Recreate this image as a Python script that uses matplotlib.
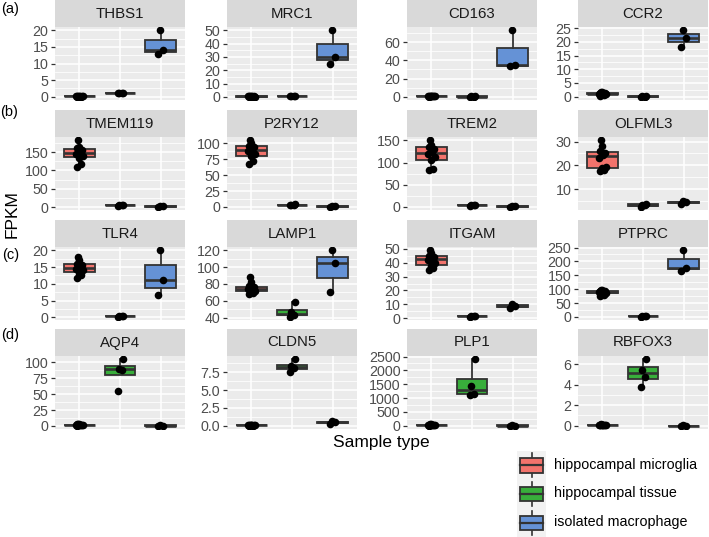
import matplotlib
matplotlib.use("Agg")
import matplotlib.pyplot as plt
import numpy as np

# genes in facet order (4 x 4 grid)
genes = ["THBS1", "MRC1", "CD163", "CCR2",
         "TMEM119", "P2RY12", "TREM2", "OLFML3",
         "TLR4", "LAMP1", "ITGAM", "PTPRC",
         "AQP4", "CLDN5", "PLP1", "RBFOX3"]

# FPKM values, one list per gene
microglia = [
    [0.0, 0.0, 0.05, 0.1, 0.1, 0.15, 0.2, 0.2, 0.25, 0.3],
    [0.1, 0.1, 0.2, 0.2, 0.3, 0.3, 0.4, 0.4, 0.5, 0.6],
    [0.2, 0.3, 0.4, 0.5, 0.5, 0.6, 0.6, 0.7, 0.8, 1.0],
    [0.4, 0.6, 0.8, 0.9, 1.0, 1.1, 1.2, 1.4, 1.6, 1.8],
    [110, 118, 135, 140, 146, 150, 155, 160, 163, 182],
    [67, 73, 80, 84, 88, 92, 94, 96, 100, 105],
    [83, 86, 105, 112, 120, 124, 130, 136, 140, 150],
    [17.8, 18.2, 19, 19.5, 23, 24.5, 25, 26, 28, 30.5],
    [11.8, 12.5, 13.2, 14, 14.5, 14.8, 15.5, 16, 17, 18],
    [68, 69, 71, 72, 74, 75, 76, 77, 82, 88],
    [35, 36, 38, 40, 42, 43, 44, 45, 47, 49],
    [75, 80, 85, 87, 90, 91, 92, 94, 96, 98],
    [0.5, 0.8, 1.0, 1.2, 1.5, 1.8, 2.0, 2.2, 2.5, 3.0],
    [0.02, 0.03, 0.05, 0.05, 0.06, 0.08, 0.1, 0.1, 0.12, 0.15],
    [10, 15, 20, 25, 30, 35, 40, 45, 50, 60],
    [0.02, 0.03, 0.04, 0.05, 0.05, 0.06, 0.07, 0.08, 0.1, 0.12],
]
tissue = [
    [1.0, 1.05, 1.1, 1.2],
    [0.3, 0.5, 0.6, 0.8],
    [0.1, 0.2, 0.3, 0.4],
    [0.0, 0.05, 0.1, 0.1],
    [3.5, 4.5, 5.0, 6.0],
    [2.5, 3.0, 3.5, 4.0],
    [3.0, 4.0, 4.5, 5.0],
    [2.8, 3.3, 3.7, 4.0],
    [0.2, 0.3, 0.3, 0.4],
    [41, 43, 46, 58],
    [1.0, 1.2, 1.4, 1.6],
    [1, 2, 3, 4],
    [55, 88, 90, 105],
    [7.5, 8.1, 8.3, 9.3],
    [1130, 1150, 1450, 2400],
    [3.8, 4.8, 5.5, 6.5],
]
macrophage = [
    [12.9, 14.2, 20.0],
    [25, 30, 50],
    [33.5, 35, 73],
    [18.2, 21.5, 24.2],
    [1.0, 1.5, 2.0],
    [0.5, 1.0, 1.5],
    [0.5, 1.0, 1.5],
    [4.0, 4.6, 5.2],
    [6.8, 11, 20],
    [70, 105, 120],
    [7, 8.5, 10.5],
    [165, 178, 240],
    [0.3, 0.5, 0.8],
    [0.2, 0.5, 0.7],
    [5, 10, 15],
    [0.0, 0.01, 0.02],
]
yticks = [
    [0, 5, 10, 15, 20], [0, 10, 20, 30, 40, 50], [0, 20, 40, 60], [0, 5, 10, 15, 20, 25],
    [0, 50, 100, 150], [0, 25, 50, 75, 100], [0, 50, 100, 150], [10, 20, 30],
    [0, 5, 10, 15, 20], [40, 60, 80, 100, 120], [0, 10, 20, 30, 40, 50], [0, 50, 100, 150, 200, 250],
    [0, 25, 50, 75, 100], [0.0, 2.5, 5.0, 7.5], [0, 500, 1000, 1500, 2000, 2500], [0, 2, 4, 6],
]
groups = ["hippocampal microglia", "hippocampal tissue", "isolated macrophage"]
colors = ["#F2736C", "#38AE3B", "#6592D6"]

plt.rcParams['font.family'] = ['Liberation Sans', 'DejaVu Sans']

W, H = 709, 537
fig = plt.figure(figsize=(W / 100, H / 100), dpi=100)

col_x = [55, 227, 407, 578]
row_top = [0, 110, 220, 329]
pw, ph, sh = 130, 73, 27


def fbox(x, y, w, h):
    # pixel box measured from the top-left corner -> figure fraction
    return [x / W, 1 - (y + h) / H, w / W, h / H]


jit = [-0.06, 0.05, -0.02, 0.08, -0.09, 0.02, 0.07, -0.05, 0.0, -0.03]
dark = '#333333'

for i, gene in enumerate(genes):
    r, c = divmod(i, 4)
    x0, y0 = col_x[c], row_top[r]

    # strip
    sax = fig.add_axes(fbox(x0, y0, pw, sh))
    sax.set_facecolor('#D9D9D9')
    sax.set_xticks([])
    sax.set_yticks([])
    for s in sax.spines.values():
        s.set_visible(False)
    sax.text(0.5, 0.5, gene, ha='center', va='center', fontsize=10.8,
             color='#1A1A1A', transform=sax.transAxes)

    # panel
    ax = fig.add_axes(fbox(x0, y0 + sh, pw, ph))
    ax.set_facecolor('#EBEBEB')
    data = [microglia[i], tissue[i], macrophage[i]]

    bp = ax.boxplot(data, positions=[1, 2, 3], widths=0.75, patch_artist=True,
                    showcaps=False, showfliers=False, whis=1.5,
                    medianprops=dict(color=dark, lw=1.9),
                    boxprops=dict(edgecolor=dark, lw=1.3),
                    whiskerprops=dict(color=dark, lw=1.3), zorder=2)
    for patch, col in zip(bp['boxes'], colors):
        patch.set_facecolor(col)

    for k, vals in enumerate(data):
        xs = [k + 1 + jit[j % len(jit)] for j in range(len(vals))]
        ax.scatter(xs, vals, s=30, c='black', lw=0, zorder=3)

    allv = np.concatenate([np.asarray(d, float) for d in data])
    lo, hi = allv.min(), allv.max()
    pad = (hi - lo) * 0.05
    ax.set_ylim(lo - pad, hi + pad)
    ax.set_xlim(0.4, 3.6)

    ticks = yticks[i]
    step = ticks[1] - ticks[0]
    minors = [m for m in np.arange(ticks[0] - step / 2, hi + pad, step) if m > lo - pad]
    ax.set_yticks(minors, minor=True)
    ax.set_yticks(ticks)
    if all(float(t).is_integer() for t in ticks):
        ax.set_yticklabels([str(int(t)) for t in ticks])
    else:
        ax.set_yticklabels([f"{t:.1f}" for t in ticks])
    ax.set_xticks([1, 2, 3])
    ax.set_xticklabels(['', '', ''])
    ax.grid(which='major', color='white', lw=1.1, zorder=0)
    ax.grid(which='minor', axis='y', color='white', lw=0.55, zorder=0)
    ax.set_axisbelow(True)
    ax.tick_params(axis='y', which='major', labelsize=10.3, labelcolor='#4D4D4D',
                   color=dark, length=3.2, width=0.9, pad=1.5)
    ax.tick_params(axis='y', which='minor', length=0)
    ax.tick_params(axis='x', length=0)
    for s in ax.spines.values():
        s.set_visible(False)

# outer labels
fig.text(12 / W, 1 - 214 / H, 'FPKM', rotation=90, fontsize=12.5,
         ha='center', va='center', color='black')
fig.text(381 / W, 1 - 443 / H, 'Sample type', fontsize=12.5,
         ha='center', va='center', color='black')
for lab, (px, py) in zip(['(a)', '(b)', '(c)', '(d)'],
                         [(10, 9), (9, 112), (11, 255), (10, 335)]):
    fig.text(px / W, 1 - py / H, lab, fontsize=10.5, ha='center', va='center')

# legend
lax = fig.add_axes(fbox(517, 451, 29, 86))
lax.set_facecolor('#F2F2F2')
lax.set_xlim(0, 1)
lax.set_ylim(3, 0)
lax.set_xticks([])
lax.set_yticks([])
for s in lax.spines.values():
    s.set_visible(False)
for k, (g, col) in enumerate(zip(groups, colors)):
    lax.plot([0.5, 0.5], [k + 0.08, k + 0.92], color=dark, lw=1.2)
    lax.add_patch(plt.Rectangle((0.1, k + 0.25), 0.78, 0.5, facecolor=col,
                                edgecolor=dark, lw=1.3, zorder=2))
    lax.plot([0.1, 0.88], [k + 0.5, k + 0.5], color=dark, lw=1.6, zorder=3)
    fig.text(554 / W, 1 - (465 + 28.5 * k) / H, g, fontsize=10.3,
             ha='left', va='center', color='black')

fig.savefig('out.png', dpi=100)
